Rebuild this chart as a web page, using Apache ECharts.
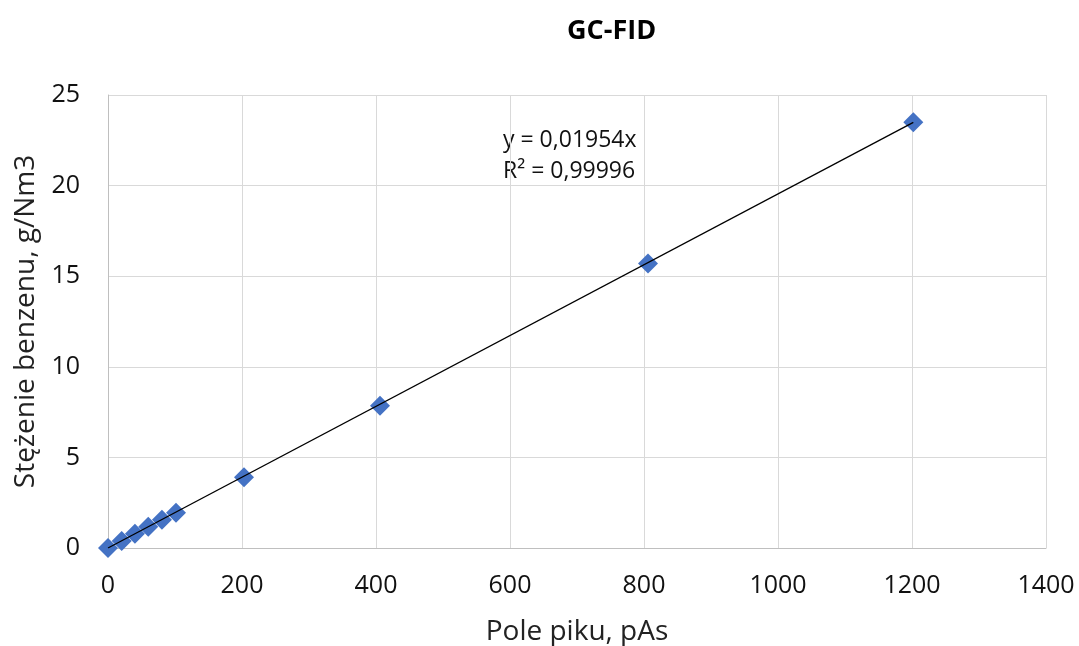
<!DOCTYPE html>
<html>
<head>
<meta charset="utf-8">
<script src="https://cdn.jsdelivr.net/npm/echarts@6/dist/echarts.min.js"></script>
<style>
  html, body { margin: 0; padding: 0; background: #fff; }
  #chart { width: 1079px; height: 646px; }
</style>
</head>
<body>
<div id="chart"></div>
<script>
// Peak area (pAs) vs. benzene concentration (g/Nm3)
const peakArea = [0, 20.4, 40.2, 60.1, 80.5, 101.5, 203, 406, 806, 1202];
const concentration = [0, 0.39, 0.78, 1.17, 1.56, 1.95, 3.9, 7.85, 15.7, 23.5];

// Linear fit through the origin
const slope = 0.01954;
const rSquared = '0,99996';
const fitLabel = 'y = 0,01954x';

const FONT = '"Open Sans", "Liberation Sans", sans-serif';

const points = peakArea.map((x, i) => [x, concentration[i]]);
const xMax = Math.max(...peakArea);
const fitLine = [[0, 0], [xMax, slope * xMax]];

const chart = echarts.init(document.getElementById('chart'));
chart.setOption({
  animation: false,
  title: {
    text: 'GC-FID',
    left: 562, top: 13,
    textStyle: { fontFamily: FONT, fontSize: 27, fontWeight: 'bold', color: '#000' }
  },
  grid: { left: 108, right: 33, top: 95, bottom: 98, outerBoundsMode: 'none' },
  xAxis: {
    type: 'value', min: 0, max: 1400, interval: 200,
    name: 'Pole piku, pAs', nameLocation: 'middle', nameGap: 70,
    nameTextStyle: { fontFamily: FONT, fontSize: 28, color: '#222' },
    axisLine: { show: true, lineStyle: { color: '#bfbfbf' } },
    axisTick: { show: false },
    axisLabel: { fontFamily: FONT, fontSize: 25, color: '#111', margin: 25, formatter: v => String(v) },
    splitLine: { show: true, lineStyle: { color: '#d9d9d9' } }
  },
  yAxis: {
    type: 'value', min: 0, max: 25, interval: 5,
    name: 'Stężenie benzenu, g/Nm3', nameLocation: 'middle', nameGap: 64, nameRotate: 90,
    nameTextStyle: { fontFamily: FONT, fontSize: 28, color: '#222' },
    axisLine: { show: true, lineStyle: { color: '#bfbfbf' } },
    axisTick: { show: false },
    axisLabel: { fontFamily: FONT, fontSize: 25, color: '#111', margin: 28 },
    splitLine: { show: true, lineStyle: { color: '#d9d9d9' } }
  },
  series: [
    {
      type: 'line',
      data: fitLine,
      symbol: 'none',
      lineStyle: { color: '#000', width: 1.3 },
      z: 3
    },
    {
      type: 'scatter',
      data: points,
      symbol: 'diamond',
      symbolSize: [20, 20],
      itemStyle: { color: '#4472C4', opacity: 1 },
      z: 2
    }
  ],
  graphic: [
    {
      type: 'text', left: 503, top: 125,
      style: { text: fitLabel + '\nR² = ' + rSquared, fontFamily: FONT, fontSize: 23, lineHeight: 31, fill: '#111' }
    }
  ]
});
</script>
</body>
</html>
